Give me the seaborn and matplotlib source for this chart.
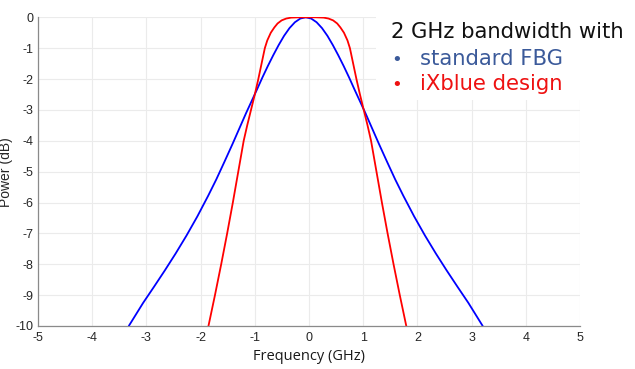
import numpy as np
import pandas as pd
import matplotlib
matplotlib.use("Agg")
import matplotlib.pyplot as plt
from matplotlib.patches import Rectangle
import seaborn as sns

# ---- data ----
blue_x = [-3.325, -3.06, -2.86, -2.66, -2.46, -2.26, -2.06, -1.86, -1.71, -1.56,
          -1.41, -1.26, -1.16, -1.06, -0.96, -0.86, -0.76, -0.66, -0.56, -0.46,
          -0.36, -0.26, -0.16, -0.06,
          0.04, 0.14, 0.24, 0.34, 0.44, 0.54, 0.64, 0.74, 0.84, 0.94,
          1.04, 1.14, 1.29, 1.44, 1.59, 1.74, 1.94, 2.14, 2.34, 2.54,
          2.74, 2.94, 3.205]
blue_y = [-10, -9.25, -8.73, -8.2, -7.65, -7.07, -6.45, -5.78, -5.25, -4.68,
          -4.1, -3.5, -3.1, -2.72, -2.34, -1.95, -1.58, -1.23, -0.9, -0.6,
          -0.35, -0.16, -0.04, 0,
          -0.04, -0.16, -0.35, -0.6, -0.9, -1.23, -1.58, -1.95, -2.34, -2.72,
          -3.1, -3.5, -4.1, -4.68, -5.25, -5.78, -6.45, -7.07, -7.65, -8.2,
          -8.73, -9.25, -10]

red_x = [-1.855, -1.735, -1.62, -1.51, -1.405, -1.305, -1.205, -1.14, -1.07, -1.00,
         -0.935, -0.875, -0.815, -0.77, -0.705, -0.64, -0.58, -0.505, -0.42, -0.33,
         -0.18, -0.03,
         0.12, 0.27, 0.36, 0.445, 0.52, 0.58, 0.645, 0.71, 0.755, 0.815,
         0.875, 0.94, 1.01, 1.08, 1.145, 1.245, 1.345, 1.45, 1.56, 1.675, 1.795]
red_y = [-10, -9, -8, -7, -6, -5, -4, -3.5, -3, -2.5,
         -2, -1.5, -1, -0.75, -0.5, -0.33, -0.2, -0.1, -0.04, -0.01,
         0, 0,
         0, -0.01, -0.04, -0.1, -0.2, -0.33, -0.5, -0.75, -1, -1.5,
         -2, -2.5, -3, -3.5, -4, -5, -6, -7, -8, -9, -10]

x_ticks = [-5, -4, -3, -2, -1, 0, 1, 2, 3, 4, 5]
y_ticks = [-10, -9, -8, -7, -6, -5, -4, -3, -2, -1, 0]

title_line = "2 GHz bandwidth with"
legend_labels = ["standard FBG", "iXblue design"]

sns.set_style("white")
plt.rcParams["axes.unicode_minus"] = False
plt.rcParams["font.family"] = ["Liberation Sans", "DejaVu Sans"]

W, H = 635, 369
fig = plt.figure(figsize=(W / 100, H / 100), dpi=100)
ax = fig.add_axes([38 / W, 1 - 326 / H, (580 - 38) / W, (326 - 17.3) / H])

df_b = pd.DataFrame({"f": blue_x, "p": blue_y})
df_r = pd.DataFrame({"f": red_x, "p": red_y})
sns.lineplot(data=df_b, x="f", y="p", ax=ax, color="#0000ff", lw=1.3,
             sort=False, estimator=None, solid_joinstyle="round")
sns.lineplot(data=df_r, x="f", y="p", ax=ax, color="#ff0000", lw=1.3,
             sort=False, estimator=None, solid_joinstyle="round")

ax.set_xlim(-5, 5)
ax.set_ylim(-10, 0)
ax.set_xticks(x_ticks)
ax.set_yticks(y_ticks)
ax.set_xticklabels([str(t) for t in x_ticks])
ax.set_yticklabels([str(t) for t in y_ticks])
ax.grid(True, color="#ebebeb", lw=0.8)
ax.set_axisbelow(True)
for s in ["top", "right"]:
    ax.spines[s].set_visible(False)
for s in ["left", "bottom"]:
    ax.spines[s].set_color("#8a8a8a")
    ax.spines[s].set_linewidth(0.9)
ax.tick_params(axis="both", direction="in", length=3.5, width=0.8, color="#8a8a8a",
               labelsize=9, labelcolor="#262626")
ax.tick_params(axis="x", pad=4)
ax.tick_params(axis="y", pad=3)

ax.set_xlabel("Frequency (GHz)", fontsize=10.5, family=["Open Sans", "DejaVu Sans"],
              color="#1a1a1a", labelpad=4)
ax.set_ylabel("Power (dB)", fontsize=10, color="#262626", labelpad=2)

# white box behind annotation
fig.add_artist(Rectangle((376 / W, 1 - 100 / H), (W - 376) / W, 100 / H,
                         transform=fig.transFigure, facecolor="white",
                         edgecolor="none", zorder=2))

tfont = ["DejaVu Sans"]
fig.text(391 / W, 1 - 38 / H, title_line, fontsize=15.2, family=tfont,
         color="#111111", va="baseline", ha="left", zorder=3)
cols = ["#3b5a9a", "#ee1111"]
bases = [65, 90]
for lab, c, b in zip(legend_labels, cols, bases):
    fig.text(391 / W, 1 - b / H, "\u2022", fontsize=13, family=tfont, color=c,
             va="baseline", ha="left", zorder=3)
    fig.text(420 / W, 1 - b / H, lab, fontsize=15.2, family=tfont, color=c,
             va="baseline", ha="left", zorder=3)

fig.savefig("out.png", dpi=100)
